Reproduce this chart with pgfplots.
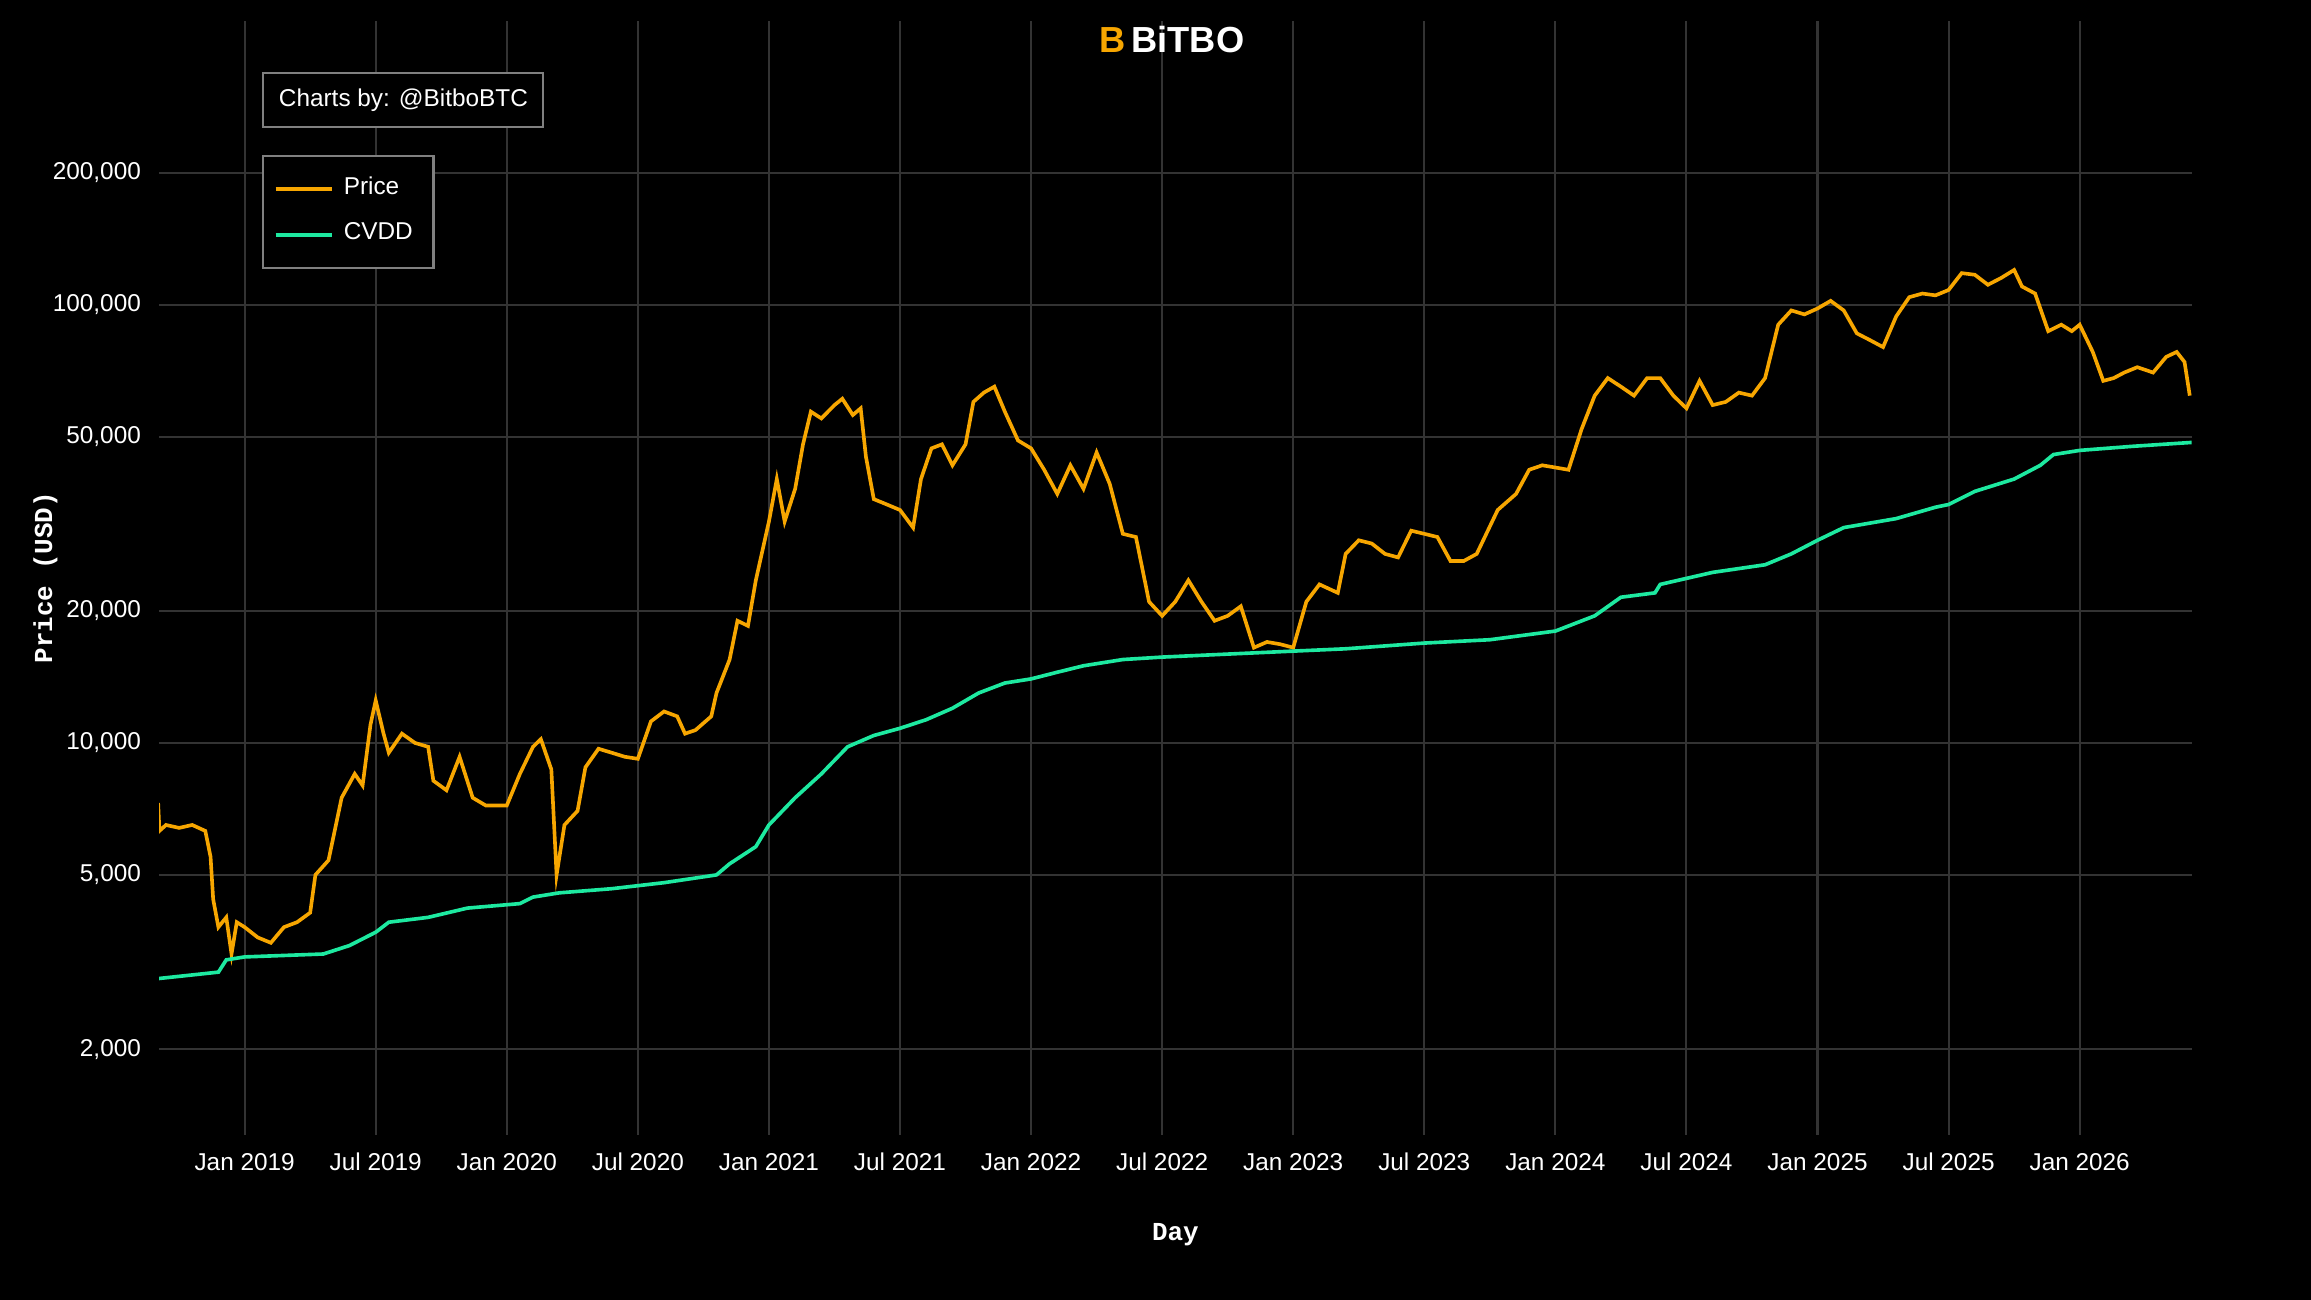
\documentclass[border=0pt]{standalone}
\usepackage{pgfplots}
\pgfplotsset{compat=1.18}
\usepackage{fontspec}
\setmainfont{Liberation Sans}
\newfontfamily\monof{Liberation Mono}
\definecolor{btcor}{HTML}{F7A600}
\definecolor{cvdd}{HTML}{1DE9A0}
\definecolor{gridc}{HTML}{333333}
\begin{document}
\begin{tikzpicture}
\useasboundingbox (0,0) rectangle (15.68,8.82);
\fill[black] (0,0) rectangle (15.68,8.82);
\begin{axis}[at={(1.08cm,1.12cm)},anchor=south west,scale only axis,
 width=13.79cm,height=7.56cm,ymode=log,
 xmin=2018.674,xmax=2026.427,ymin=1276,ymax=444600,
 axis line style={draw=none},tick style={draw=none},
 grid=major,major grid style={gridc,line width=0.4pt},
 xtick={2019,2019.5,2020,2020.5,2021,2021.5,2022,2022.5,2023,2023.5,2024,2024.5,2025,2025.5,2026},
 xticklabels={Jan 2019,Jul 2019,Jan 2020,Jul 2020,Jan 2021,Jul 2021,Jan 2022,Jul 2022,Jan 2023,Jul 2023,Jan 2024,Jul 2024,Jan 2025,Jul 2025,Jan 2026},
 ytick={2000,5000,10000,20000,50000,100000,200000},
 yticklabels={{2,000},{5,000},{10,000},{20,000},{50,000},{100,000},{200,000}},
 ticklabel style={font=\fontsize{4.7}{6}\selectfont,text=white},
 xlabel={\monof\bfseries Day},ylabel={\monof\bfseries Price (USD)},
 label style={font=\fontsize{5}{6}\selectfont,text=white},
 xlabel style={at={(rel axis cs:0.5,-0.09)},anchor=center},
 ylabel style={at={(rel axis cs:-0.056,0.5)},anchor=center},
 legend style={at={(0.0508,0.8796)},anchor=north west,fill=black,draw=gray,text=white,
  font=\fontsize{4.7}{6}\selectfont,row sep=0pt,inner sep=2pt},
 legend image code/.code={\draw[#1,line width=0.7pt] (0cm,0cm) -- (0.38cm,0cm);},
 legend cell align=left,
]
\addplot[btcor,line width=0.7pt] coordinates {
(2018.67,7300)(2018.675,6300)(2018.7,6500)(2018.75,6400)(2018.8,6500)(2018.85,6300)(2018.87,5500)(2018.88,4400)(2018.9,3800)(2018.93,4000)(2018.95,3300)(2018.97,3900)(2019.0,3800)(2019.05,3600)(2019.1,3500)(2019.15,3800)(2019.2,3900)(2019.25,4100)(2019.27,5000)(2019.32,5400)(2019.37,7500)(2019.42,8500)(2019.45,8000)(2019.48,11000)(2019.5,12500)(2019.53,10500)(2019.55,9500)(2019.6,10500)(2019.65,10000)(2019.7,9800)(2019.72,8200)(2019.77,7800)(2019.82,9300)(2019.87,7500)(2019.92,7200)(2019.97,7200)(2020.0,7200)(2020.05,8500)(2020.1,9800)(2020.13,10200)(2020.17,8700)(2020.19,5000)(2020.22,6500)(2020.27,7000)(2020.3,8800)(2020.35,9700)(2020.4,9500)(2020.45,9300)(2020.5,9200)(2020.55,11200)(2020.6,11800)(2020.65,11500)(2020.68,10500)(2020.72,10700)(2020.78,11500)(2020.8,13000)(2020.85,15500)(2020.88,19000)(2020.92,18500)(2020.95,23500)(2021.0,32000)(2021.03,40000)(2021.06,32000)(2021.1,38000)(2021.13,48000)(2021.16,57000)(2021.2,55000)(2021.25,59000)(2021.28,61000)(2021.32,56000)(2021.35,58000)(2021.37,45000)(2021.4,36000)(2021.45,35000)(2021.5,34000)(2021.55,31000)(2021.58,40000)(2021.62,47000)(2021.66,48000)(2021.7,43000)(2021.75,48000)(2021.78,60000)(2021.82,63000)(2021.86,65000)(2021.9,57000)(2021.95,49000)(2022.0,47000)(2022.05,42000)(2022.1,37000)(2022.15,43000)(2022.2,38000)(2022.25,46000)(2022.3,39000)(2022.35,30000)(2022.4,29500)(2022.45,21000)(2022.5,19500)(2022.55,21000)(2022.6,23500)(2022.65,21000)(2022.7,19000)(2022.75,19500)(2022.8,20500)(2022.85,16500)(2022.9,17000)(2022.95,16800)(2023.0,16500)(2023.05,21000)(2023.1,23000)(2023.17,22000)(2023.2,27000)(2023.25,29000)(2023.3,28500)(2023.35,27000)(2023.4,26500)(2023.45,30500)(2023.5,30000)(2023.55,29500)(2023.6,26000)(2023.65,26000)(2023.7,27000)(2023.78,34000)(2023.85,37000)(2023.9,42000)(2023.95,43000)(2024.0,42500)(2024.05,42000)(2024.1,52000)(2024.15,62000)(2024.2,68000)(2024.25,65000)(2024.3,62000)(2024.35,68000)(2024.4,68000)(2024.45,62000)(2024.5,58000)(2024.55,67000)(2024.6,59000)(2024.65,60000)(2024.7,63000)(2024.75,62000)(2024.8,68000)(2024.85,90000)(2024.9,97000)(2024.95,95000)(2025.0,98000)(2025.05,102000)(2025.1,97000)(2025.15,86000)(2025.2,83000)(2025.25,80000)(2025.3,94000)(2025.35,104000)(2025.4,106000)(2025.45,105000)(2025.5,108000)(2025.55,118000)(2025.6,117000)(2025.65,111000)(2025.7,115000)(2025.75,120000)(2025.78,110000)(2025.83,106000)(2025.88,87000)(2025.93,90000)(2025.97,87000)(2026.0,90000)(2026.05,78000)(2026.09,67000)(2026.13,68000)(2026.17,70000)(2026.22,72000)(2026.28,70000)(2026.33,76000)(2026.37,78000)(2026.40,74000)(2026.42,62000)};
\addlegendentry{Price}
\addplot[cvdd,line width=0.7pt] coordinates {
(2018.67,2900)(2018.9,3000)(2018.93,3200)(2019.0,3250)(2019.3,3300)(2019.4,3450)(2019.5,3700)(2019.55,3900)(2019.7,4000)(2019.85,4200)(2020.05,4300)(2020.1,4450)(2020.2,4550)(2020.4,4650)(2020.6,4800)(2020.8,5000)(2020.85,5300)(2020.95,5800)(2021.0,6500)(2021.1,7500)(2021.2,8500)(2021.3,9800)(2021.4,10400)(2021.5,10800)(2021.6,11300)(2021.7,12000)(2021.8,13000)(2021.9,13700)(2022.0,14000)(2022.1,14500)(2022.2,15000)(2022.35,15500)(2022.5,15700)(2022.7,15900)(2022.9,16100)(2023.0,16200)(2023.2,16400)(2023.5,16900)(2023.75,17200)(2024.0,18000)(2024.15,19500)(2024.25,21500)(2024.38,22000)(2024.4,23000)(2024.6,24500)(2024.8,25500)(2024.9,27000)(2025.0,29000)(2025.1,31000)(2025.3,32500)(2025.45,34500)(2025.5,35000)(2025.6,37500)(2025.75,40000)(2025.85,43000)(2025.9,45500)(2026.0,46500)(2026.2,47500)(2026.43,48500)};
\addlegendentry{CVDD}
\node[anchor=north west,draw=gray,fill=black,text=white,font=\fontsize{4.7}{6}\selectfont,inner sep=3pt] at (rel axis cs:0.0508,0.9537) {Charts by: @BitboBTC};
\end{axis}
\node[text=white,font=\bfseries\fontsize{7}{8}\selectfont] at (7.95,8.55) {{\color{btcor}B}\,BiTBO};
\end{tikzpicture}
\end{document}
